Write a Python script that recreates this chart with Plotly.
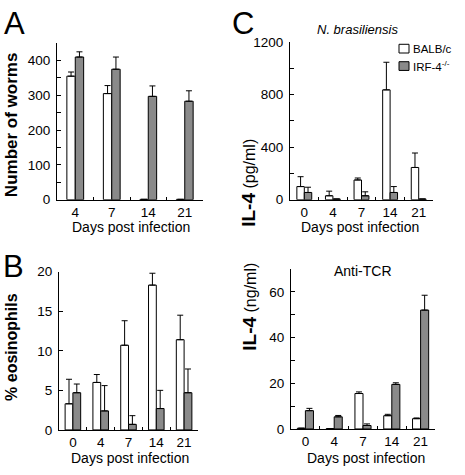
import plotly.graph_objects as go

# ---------------- data ----------------
A_days = ["4", "7", "14", "21"]
A_balb = [355, 305, 1, 1]
A_balb_err = [12, 23, 0, 0]
A_irf = [410, 375, 297, 283]
A_irf_err = [15, 35, 30, 30]

B_days = ["0", "4", "7", "14", "21"]
B_balb = [3.3, 6.0, 10.7, 18.3, 11.4]
B_balb_err = [3.1, 1.0, 3.1, 1.5, 3.1]
B_irf = [4.7, 2.4, 0.7, 2.7, 4.7]
B_irf_err = [1.1, 3.2, 1.1, 2.3, 3.0]

C_days = ["0", "4", "7", "14", "21"]
C_nb_balb = [100, 30, 150, 835, 245]
C_nb_balb_err = [75, 35, 15, 210, 110]
C_nb_irf = [55, 5, 30, 55, 5]
C_nb_irf_err = [40, 0, 30, 45, 0]

C_tcr_balb = [0.3, 0.1, 15.5, 5.8, 4.5]
C_tcr_balb_err = [0, 0, 0.7, 0.6, 0.3]
C_tcr_irf = [8.0, 5.3, 1.5, 19.5, 52.0]
C_tcr_irf_err = [1.0, 0.6, 0.7, 0.7, 6.5]

legend_names = ["BALB/c", "IRF-4<sup>-/-</sup>"]

W, H = 465, 475
GRAY = "#8a8a8a"
FILLS = ["white", GRAY]
FONT = "Liberation Sans, Arial, Helvetica, sans-serif"

fig = go.Figure()


def add_pair(xs, y1, e1, y2, e2, xa, ya, w):
    common = dict(xaxis=xa, yaxis=ya, width=w, showlegend=False,
                  marker_line=dict(color="black", width=1))
    fig.add_trace(go.Bar(x=xs, y=y1, offset=-w, marker_color=FILLS[0],
                         name=legend_names[0],
                         error_y=dict(type="data", symmetric=False, array=e1,
                                      arrayminus=[0] * len(e1), color="black",
                                      thickness=1, width=3),
                         **common))
    fig.add_trace(go.Bar(x=xs, y=y2, offset=0, marker_color=FILLS[1],
                         name=legend_names[1],
                         error_y=dict(type="data", symmetric=False, array=e2,
                                      arrayminus=[0] * len(e2), color="black",
                                      thickness=1, width=3),
                         **common))


add_pair(A_days, A_balb, A_balb_err, A_irf, A_irf_err, "x", "y", 0.23)
add_pair(B_days, B_balb, B_balb_err, B_irf, B_irf_err, "x2", "y2", 0.28)
add_pair(C_days, C_nb_balb, C_nb_balb_err, C_nb_irf, C_nb_irf_err, "x3", "y3", 0.26)
add_pair(C_days, C_tcr_balb, C_tcr_balb_err, C_tcr_irf, C_tcr_irf_err, "x4", "y4", 0.28)


def px_x(p):
    return p / W


def px_y(p):
    return 1 - p / H


tickfont = dict(family=FONT, size=13.5, color="black")


def xax(x0, x1, anchor):
    return dict(domain=[px_x(x0), px_x(x1)], anchor=anchor, type="category",
                showline=True, linecolor="black", linewidth=1,
                ticks="inside", ticklen=3, tickcolor="black",
                tickson="boundaries", showgrid=False, zeroline=False,
                tickfont=tickfont, ticklabelstandoff=0, fixedrange=True)


def yax(y0, y1, anchor, rng, dtick, minor):
    return dict(domain=[px_y(y0), px_y(y1)], anchor=anchor, range=rng,
                showline=True, linecolor="black", linewidth=1,
                ticks="inside", ticklen=4, tickcolor="black",
                dtick=dtick, tick0=0,
                minor=dict(dtick=minor, ticks="inside", ticklen=4,
                           tickcolor="black", showgrid=False),
                showgrid=False, zeroline=False, tickfont=tickfont,
                ticklabelstandoff=3, fixedrange=True)


fig.update_layout(
    width=W, height=H,
    margin=dict(l=0, r=0, t=0, b=0),
    paper_bgcolor="white", plot_bgcolor="white",
    barmode="overlay",
    font=dict(family=FONT, color="black"),
    xaxis=xax(57, 203, "y"),
    yaxis=yax(199, 37.3, "x", [0, 450], 100, 50),
    xaxis2=xax(59, 198, "y2"),
    yaxis2=yax(436.7, 273.3, "x2", [0, 20], 5, 5),
    xaxis3=xax(290, 433, "y3"),
    yaxis3=yax(199, 36, "x3", [0, 1200], 400, 200),
    xaxis4=xax(291, 435, "y4"),
    yaxis4=yax(435.7, 270.5, "x4", [0, 70], 20, 10),
    showlegend=False,
)


def ann(text, x, y, size, bold=False, italic=False, angle=0, xanchor="center"):
    if bold:
        text = "<b>" + text + "</b>"
    if italic:
        text = "<i>" + text + "</i>"
    fig.add_annotation(text=text, x=px_x(x), y=px_y(y), xref="paper", yref="paper",
                       showarrow=False, textangle=angle,
                       font=dict(family=FONT, size=size, color="black"),
                       xanchor=xanchor, yanchor="middle")


# panel letters
ann("A", 14, 17, 31)
ann("B", 13, 268, 31)
ann("C", 243, 17, 31)

# y titles
ann("Number of worms", 11, 122, 17, bold=True, angle=-90)
ann("% eosinophils", 12, 351, 16, bold=True, angle=-90)
fig.add_annotation(text="<b>IL-4</b><span style='font-size:16px'> (pg/ml)</span>",
                   x=px_x(249), y=px_y(134), xref="paper", yref="paper",
                   showarrow=False, textangle=-90,
                   font=dict(family=FONT, size=19, color="black"))
fig.add_annotation(text="<b>IL-4</b><span style='font-size:16px'> (ng/ml)</span>",
                   x=px_x(250), y=px_y(357), xref="paper", yref="paper",
                   showarrow=False, textangle=-90,
                   font=dict(family=FONT, size=19, color="black"))

# x titles
ann("Days post infection", 131, 227, 14)
ann("Days post infection", 130, 466, 14)
ann("Days post infection", 360, 227, 14)
ann("Days post infection", 366, 466, 14)

# panel subtitles
ann("N. brasiliensis", 357, 23, 13, italic=True)
ann("Anti-TCR", 363, 273, 14)

# legend (drawn as boxes + labels)
for i, (name, fill) in enumerate(zip(legend_names, FILLS)):
    yc = 43 + 18 * i
    fig.add_shape(type="rect", xref="paper", yref="paper",
                  x0=px_x(399), x1=px_x(409), y0=px_y(yc + 4.5), y1=px_y(yc - 4.5),
                  fillcolor=fill, line=dict(color="black", width=1))
    ann(name, 411, yc, 11.5, xanchor="left")

fig.write_html("out.html", config={"displayModeBar": False},
               post_script="document.body.style.margin='0';document.body.style.overflow='hidden';")
